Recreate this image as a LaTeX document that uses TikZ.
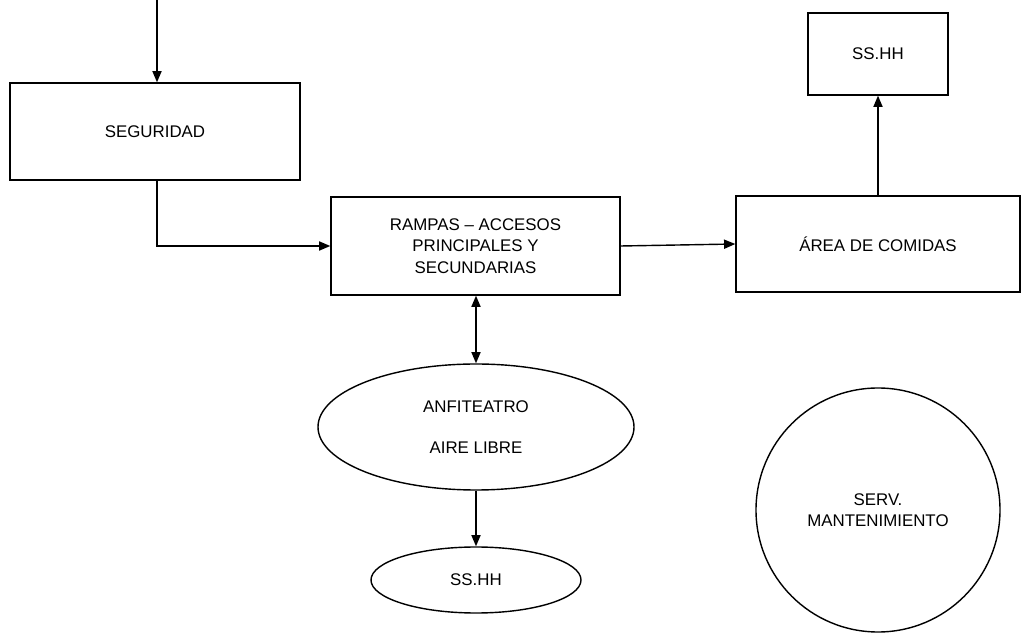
\documentclass[tikz,border=0pt]{standalone}
\usepackage{fontspec}
\setmainfont{Liberation Sans}
\usepackage{tikz}
\usetikzlibrary{arrows.meta,shapes.geometric}

\begin{document}
\begin{tikzpicture}[
  box/.style={draw, rectangle, line width=1pt, align=center, font=\fontsize{12}{15.5}\selectfont},
  oval/.style={draw, ellipse, line width=1pt, inner sep=0pt, align=center, font=\fontsize{12}{15.5}\selectfont},
  flow/.style={line width=1pt, -{Triangle[length=8pt,width=6.5pt]}},
  both/.style={line width=1pt, {Triangle[length=8pt,width=6.5pt]}-{Triangle[length=8pt,width=6.5pt]}}
]
  \useasboundingbox (0,0) rectangle (25.55,15.85);

  % upper row
  \coordinate (entry) at (3.925,15.85);
  \node[box, minimum width=7.25cm, minimum height=2.425cm] (seg) at (3.875,12.5625) {SEGURIDAD};
  \node[box, minimum width=7.225cm, minimum height=2.45cm] (ramp) at (11.8875,9.7) {RAMPAS -- ACCESOS\\PRINCIPALES Y\\SECUNDARIAS};
  \node[box, minimum width=7.1cm, minimum height=2.4cm] (area) at (21.95,9.75) {ÁREA DE COMIDAS};
  \node[box, minimum width=3.5cm, minimum height=2.05cm] (ssa) at (21.95,14.5) {SS.HH};

  % lower part
  \node[oval, minimum width=7.9cm, minimum height=3.15cm] (anf) at (11.9,5.175) {ANFITEATRO\\[14pt]AIRE LIBRE};
  \node[oval, minimum width=5.25cm, minimum height=1.65cm] (ssb) at (11.9,1.35) {SS.HH};
  \node[draw, circle, line width=1pt, minimum size=6.1cm, align=center, font=\fontsize{12}{15}\selectfont] (serv) at (21.95,3.1) {SERV.\\MANTENIMIENTO};

  % connections
  \draw[flow] (entry) -- (entry |- seg.north);
  \draw[flow] ([xshift=0.05cm]seg.south) |- (ramp.west);
  \draw[flow] (ramp.east) -- (area.west);
  \draw[flow] (area.north) -- (ssa.south);
  \draw[both] (ramp.south -| anf.north) -- (anf.north);
  \draw[flow] (anf.south) -- (ssb.north);
\end{tikzpicture}
\end{document}
